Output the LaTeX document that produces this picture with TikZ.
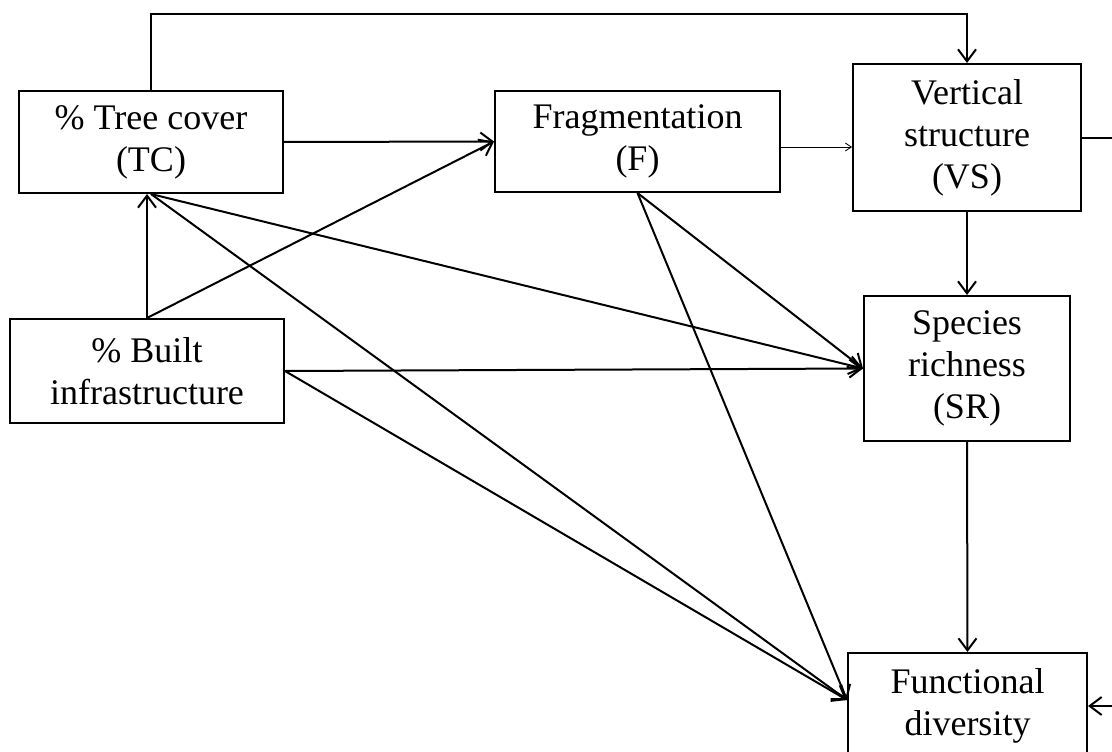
\documentclass[tikz,border=0pt]{standalone}
\usepackage{fontspec}
\setmainfont{Liberation Serif}
\usetikzlibrary{arrows.meta,calc}
\begin{document}
\begin{tikzpicture}[x=1pt,y=-1pt,line width=2pt,>={Straight Barb[length=12pt,width=18pt]},
	box/.style={draw,inner sep=0pt,align=center,font=\fontsize{36}{42}\selectfont},
	thinarr/.style={line width=0.8pt,-{Straight Barb[length=6pt,width=8pt]}}]
				\useasboundingbox (0,0) rectangle (1112,752);
				\clip (0,0) rectangle (1112,752);
				\node[box,minimum width=264pt,minimum height=102pt] (tc) at (151,142) {\% Tree cover\\(TC)};
				\node[box,minimum width=285pt,minimum height=101pt] (frag) at (637.5,141.5) {Fragmentation\\(F)};
				\node[box,minimum width=228pt,minimum height=147pt] (vs) at (967,137.5) {Vertical\\structure\\(VS)};
				\node[box,minimum width=274pt,minimum height=104pt] (built) at (147,371) {\% Built\\infrastructure};
				\node[box,minimum width=206pt,minimum height=145pt] (sr) at (967,368.5) {Species\\richness\\(SR)};
				\node[box,minimum width=239pt,minimum height=106pt] (fd) at (967.5,706) {Functional\\diversity};
				\coordinate (topline) at (560,14);
				\coordinate (fdin) at ($(fd.west)+(0,-6)$);
				\coordinate (fout) at ($(frag.east)+(0,5.5)$);
				\draw[->] (tc.north) |- (topline) -| (vs.north);
				\draw[->] (tc.east) -- (frag.west);
				\draw[->] (built.north) -- (frag.west);
				\draw[->] (built.north) -- (built.north |- tc.south);
				\draw[thinarr] (fout) -- (vs.west |- fout);
				\draw[->] (vs.south) -- (sr.north);
				\draw[->] (sr.south) -- (fd.north);
				\draw[->] (tc.south) -- (sr.west);
				\draw[->] (frag.south) -- (sr.west);
				\draw[->] (built.east) -- (sr.west);
				\draw[->] (tc.south) -- (fdin);
				\draw[->] (frag.south) -- (fdin);
				\draw[->] (built.east) -- (fdin);
				\draw[->] (vs.east) -- ++(60,0) |- (fd.east);
\end{tikzpicture}
\end{document}
